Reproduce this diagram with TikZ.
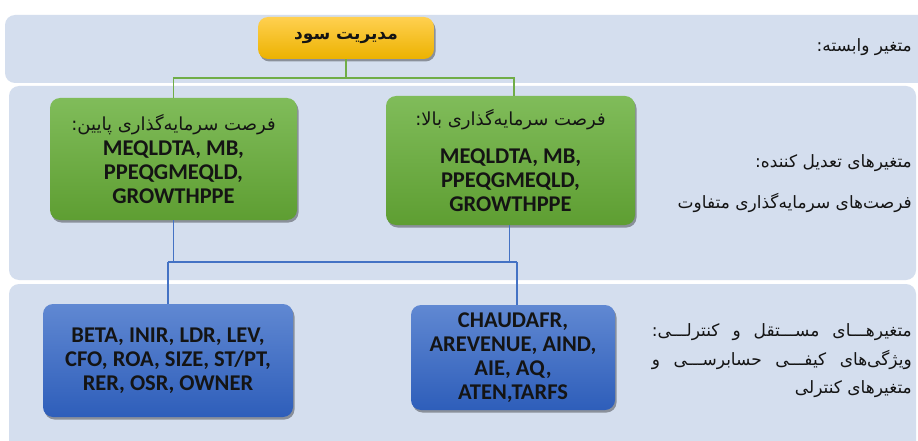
\documentclass[tikz,border=0pt]{standalone}
\usepackage{fontspec}
\setmainfont{Carlito}
\newfontfamily\fafont[Script=Arabic]{DejaVu Sans}
\TeXXeTstate=1
\usetikzlibrary{shadows}
\definecolor{bandc}{RGB}{212,222,238}
\definecolor{gtop}{RGB}{128,188,90}
\definecolor{gbot}{RGB}{94,158,50}
\definecolor{ytop}{RGB}{255,208,80}
\definecolor{ybot}{RGB}{236,178,0}
\definecolor{btop}{RGB}{96,136,210}
\definecolor{bbot}{RGB}{46,94,186}
\definecolor{gline}{RGB}{112,173,71}
\definecolor{bline}{RGB}{68,114,196}
\definecolor{txt}{RGB}{20,20,20}
\newcommand{\fatext}[1]{{\fafont\beginR #1\endR}}
\newcommand{\fajust}[1]{\makebox[260pt][s]{\fafont\beginR #1\endR}}
\tikzset{
  band/.style={fill=bandc, draw=none, rounded corners=10pt},
  boxbase/.style={rounded corners=10pt, inner sep=0pt, align=center, text=txt,
    font=\fontsize{22.5}{24}\selectfont\bfseries,
    drop shadow={shadow xshift=1.5pt, shadow yshift=-2.5pt, opacity=0.35, fill=black}},
  gbox/.style={boxbase, top color=gtop, bottom color=gbot},
  ybox/.style={boxbase, top color=ytop, bottom color=ybot},
  bbox/.style={boxbase, top color=btop, bottom color=bbot},
  glink/.style={draw=gline, line width=1.3pt},
  blink/.style={draw=bline, line width=1.3pt},
  lab/.style={anchor=east, align=right, text=txt, inner sep=0pt,
    font=\fontsize{17}{28.5}\selectfont\fafont}
}
\begin{document}
\begin{tikzpicture}[x=1pt,y=-1pt]
\useasboundingbox (0,0) rectangle (918,441);
\clip (0,0) rectangle (918,441);
\fill[white] (0,0) rectangle (918,441);
% bands
\path[band] (5,15) rectangle (930,83);
\path[band] (9,86) rectangle (916,280);
\path[band] (9,284) rectangle (916,460);

% boxes
\node[ybox, minimum width=176pt, minimum height=42pt] (Y) at (346,38)
  {\fontsize{17}{18}\selectfont\fatext{مدیریت سود}};
\node[gbox, minimum width=247pt, minimum height=122pt] (GL) at (173.5,159)
  {{\fontsize{18}{20}\selectfont\mdseries\fatext{فرصت سرمایه‌گذاری پایین:}}\\[1pt]
   MEQLDTA, MB,\\ PPEQGMEQLD,\\ GROWTHPPE};
\node[gbox, minimum width=249pt, minimum height=129pt] (GR) at (510.5,160.5)
  {{\fontsize{18}{20}\selectfont\mdseries\fatext{فرصت سرمایه‌گذاری بالا:}}\\[14pt]
   MEQLDTA, MB,\\ PPEQGMEQLD,\\ GROWTHPPE};
\node[bbox, minimum width=250pt, minimum height=113pt] (BL) at (168,360.5)
  {BETA, INIR, LDR, LEV,\\ CFO, ROA, SIZE, ST/PT,\\ RER, OSR, OWNER};
\node[bbox, minimum width=204pt, minimum height=105pt] (BR) at (513,357.5)
  {CHAUDAFR,\\ AREVENUE, AIND,\\ AIE, AQ,\\ ATEN,TARFS};

% labels
\node[lab] (L1) at (912,47) {\fatext{متغیر وابسته:}};
\node[lab] (L2) at (912,163) {\fatext{متغیرهای تعدیل کننده:}};
\node[lab] (L3) at (912,203) {\fatext{فرصت‌های سرمایه‌گذاری متفاوت}};
\node[lab] (L4) at (912,361) {\fajust{متغیرهـــای مســـتقل و کنترلـــی:}\\
  \fajust{ویژگی‌های کیفـــی حسابرســـی و}\\
  \fatext{متغیرهای کنترلی}};

% green connectors
\coordinate (gj) at (346,78);
\draw[glink] (Y.south) -- (gj);
\draw[glink] (gj) -| (GL.north);
\draw[glink] (gj) -| ([xshift=3.5pt]GR.north);

% blue connectors
\coordinate (bl) at (168,262);
\coordinate (br) at (517,262);
\draw[blink] (GL.south) -- (GL.south |- bl);
\draw[blink, line width=0.8pt] ([xshift=-1.5pt]GR.south) -- ([xshift=-1.5pt]GR.south |- br);
\draw[blink] (bl) -- (br);
\draw[blink] (bl) -- (bl |- BL.north);
\draw[blink] (br) -- (br |- BR.north);
\end{tikzpicture}
\end{document}
